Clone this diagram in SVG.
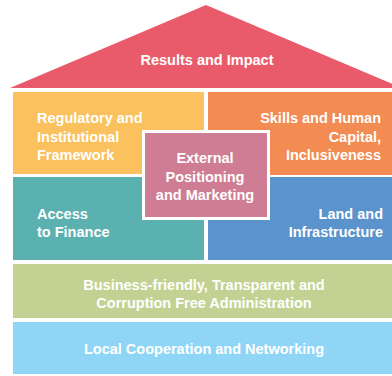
<svg xmlns="http://www.w3.org/2000/svg" width="392" height="376" viewBox="0 0 392 376">
<style>
.t{font-family:"Liberation Sans",Arial,sans-serif;font-weight:bold;font-size:14.5px;fill:#ffffff}
.m{text-anchor:middle}
.e{text-anchor:end}
</style>
<rect width="392" height="376" fill="#ffffff"/>
<g id="roof">
<polygon points="10,88 206,5 402,88" fill="#E95B6A"/>
<text class="t m" x="207" y="65">Results and Impact</text>
</g>
<g id="regulatory">
<rect x="13" y="92" width="191" height="82" fill="#FAC15E"/>
<text class="t" x="37" y="123">Regulatory and</text>
<text class="t" x="37" y="141.5">Institutional</text>
<text class="t" x="37" y="160">Framework</text>
</g>
<g id="skills">
<rect x="208" y="92" width="184" height="83" fill="#F28C52"/>
<text class="t e" x="381" y="123">Skills and Human</text>
<text class="t e" x="381" y="141.5">Capital,</text>
<text class="t e" x="381" y="160">Inclusiveness</text>
</g>
<g id="finance">
<rect x="13" y="177" width="191" height="83" fill="#5BB0B0"/>
<text class="t" x="37" y="219">Access</text>
<text class="t" x="37" y="237">to Finance</text>
</g>
<g id="land">
<rect x="208" y="177" width="184" height="83" fill="#5B93CC"/>
<text class="t e" x="383" y="219">Land and</text>
<text class="t e" x="383" y="237">Infrastructure</text>
</g>
<g id="external">
<rect x="143.5" y="131.5" width="125" height="87" fill="#CF7C95" stroke="#ffffff" stroke-width="3"/>
<text class="t m" x="205" y="163">External</text>
<text class="t m" x="205" y="181.5">Positioning</text>
<text class="t m" x="205" y="200">and Marketing</text>
</g>
<g id="administration">
<rect x="13" y="264" width="379" height="54" fill="#C3D293"/>
<text class="t m" x="204" y="290">Business-friendly, Transparent and</text>
<text class="t m" x="204" y="308">Corruption Free Administration</text>
</g>
<g id="cooperation">
<rect x="13" y="322" width="379" height="52" fill="#8FD5F5"/>
<text class="t m" x="204" y="354">Local Cooperation and Networking</text>
</g>
<g id="connectors"/>
</svg>
